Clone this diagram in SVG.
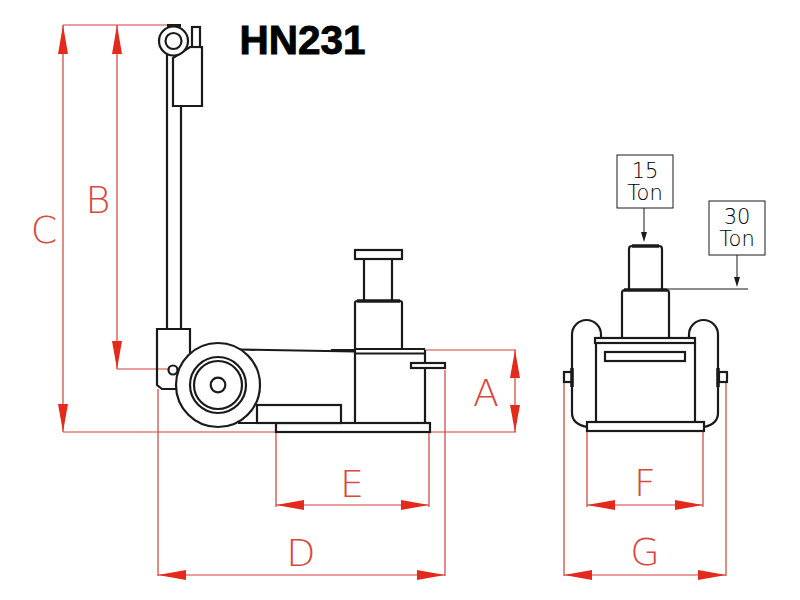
<svg xmlns="http://www.w3.org/2000/svg" width="800" height="600" viewBox="0 0 800 600">
<style>
.k{fill:none;stroke:#1a1a1a;stroke-width:2.2}
.w{fill:#fff;stroke:#1a1a1a;stroke-width:2.2}
.t{fill:none;stroke:#1a1a1a;stroke-width:1}
.d{fill:none;stroke:#d2403a;stroke-width:1.2}
.a{fill:#e32a1c;stroke:none}
.l{font-family:"DejaVu Sans",sans-serif;font-weight:200;font-size:38px;fill:#d8483c;text-anchor:middle}
.n{font-family:"DejaVu Sans",sans-serif;font-weight:200;font-size:21px;fill:#000;text-anchor:middle}
.b{fill:#fff;stroke:#1a1a1a;stroke-width:1}
.h{stroke:#1a1a1a;stroke-width:3.5;fill:none}
</style>
<rect width="800" height="600" fill="#fff"/>
<text id="title" x="302.500" y="54" font-family="Liberation Sans, Arial, sans-serif" font-size="40.500" font-weight="bold" fill="#000" stroke="#000" stroke-width="0.9" text-anchor="middle">HN231</text>
<g id="connectors">
<path class="d" d="M63 25H167M117 25V369M63 25V432M117 369H170M63 432H516M158 389V576M445 370V576M276 432V507M429 432V507M425 350H516M515 350V432M564 380V576M726 380V576M587 432V507M703 432V507M276 505H429M587 505H703M158 575H445M564 575H726"/>
<g class="a">
<polygon points="63,25 58,54 68,54"/><polygon points="63,432 58,404 68,404"/>
<polygon points="117,25 112,54 122,54"/><polygon points="117,369 112,341 122,341"/>
<polygon points="515,350 510,378 520,378"/><polygon points="515,432 510,405 520,405"/>
<polygon points="276,505 304,500 304,510"/><polygon points="429,505 401,500 401,510"/>
<polygon points="587,505 615,500 615,510"/><polygon points="703,505 675,500 675,510"/>
<polygon points="158,575 186,570 186,580"/><polygon points="445,575 417,570 417,580"/>
<polygon points="564,575 592,570 592,580"/><polygon points="726,575 698,570 698,580"/>
</g>
<path class="t" d="M644 208V236M737 255V282M667 289H748"/>
<polygon points="644,242 641,232 647,232" fill="#1a1a1a"/>
<polygon points="737,287 734,277 740,277" fill="#1a1a1a"/>
</g>
<g id="labels">
<text class="l" x="44" y="243">C</text>
<text class="l" x="98" y="213">B</text>
<text class="l" x="486" y="406">A</text>
<text class="l" x="352" y="497">E</text>
<text class="l" x="645" y="496">F</text>
<text class="l" x="301" y="566">D</text>
<text class="l" x="645" y="565">G</text>
</g>
<g id="handle">
<path class="k" d="M167 50V329M181 50V329"/>
<path class="w" d="M173 58L190 47H202V106H173Z"/>
<rect class="w" x="192" y="27" width="8" height="20"/>
<circle class="w" cx="173.500" cy="41" r="14.500"/>
<circle class="k" cx="173.500" cy="41" r="8"/>
<path d="M167 25.500H181" stroke="#1a1a1a" stroke-width="3"/>
</g>
<g id="base-plate">
<path class="k" d="M238 423H276"/>
<rect class="w" x="276" y="423" width="154" height="9"/>
<rect class="w" x="257" y="405" width="84" height="18"/>
</g>
<g id="body">
<path class="k" d="M240 349.500L355 351.500M331 350H355M355 350V423M425 350V423"/>
<path class="k" d="M355 349H425M355 353.500H425"/>
<rect class="w" x="411" y="363" width="34" height="5"/>
</g>
<g id="ram">
<path class="k" d="M355 349V303Q355 301 357 301H400Q402 301 402 303V349"/>
<path class="h" d="M357 301H400"/>
<path class="k" d="M364 259V301M392 259V301"/>
<rect class="w" x="355" y="250" width="47" height="9"/>
</g>
<g id="bracket">
<path class="k" d="M190 353V329H157V385L162 389H178"/>
<circle class="w" cx="173" cy="370" r="4.500"/>
</g>
<g id="wheel">
<circle class="w" cx="218" cy="385" r="42"/>
<circle class="k" cx="218" cy="385" r="28"/>
<circle class="k" cx="218" cy="385" r="24"/>
<circle class="k" cx="218" cy="385" r="7.300"/>
</g>
<g id="front-view">
<path class="k" d="M601 338V334.500A14.500 14.500 0 0 0 572 334.500V413Q572 424 587 427M689 338V334.500A14.500 14.500 0 0 1 718 334.500V413Q718 424 704 427"/>
<rect class="w" x="564" y="372" width="8" height="10"/>
<rect class="w" x="719" y="372" width="8" height="10"/>
<path class="h" d="M572 368V387M718 368V387"/>
<rect class="w" x="595" y="338" width="100" height="5"/>
<path class="k" d="M596 343V423M695 343V423"/>
<rect class="w" x="605" y="352" width="80" height="9"/>
<rect class="w" x="587" y="422" width="117" height="9"/>
<path class="k" d="M622 338V293Q622 290 625 290H666Q669 290 669 293V338"/>
<path class="h" d="M624 290H667"/>
<path class="k" d="M629 290V249Q629 246 632 246H659Q662 246 662 249V290"/>
<path class="h" d="M632 246H659"/>
</g>
<g id="ton15">
<rect class="b" x="617" y="155" width="56" height="53"/>
<text class="n"><tspan x="645" y="178">15</tspan><tspan x="645" y="200">Ton</tspan></text>
</g>
<g id="ton30">
<rect class="b" x="709" y="201" width="56" height="54"/>
<text class="n"><tspan x="737" y="224">30</tspan><tspan x="737" y="246">Ton</tspan></text>
</g>
</svg>
